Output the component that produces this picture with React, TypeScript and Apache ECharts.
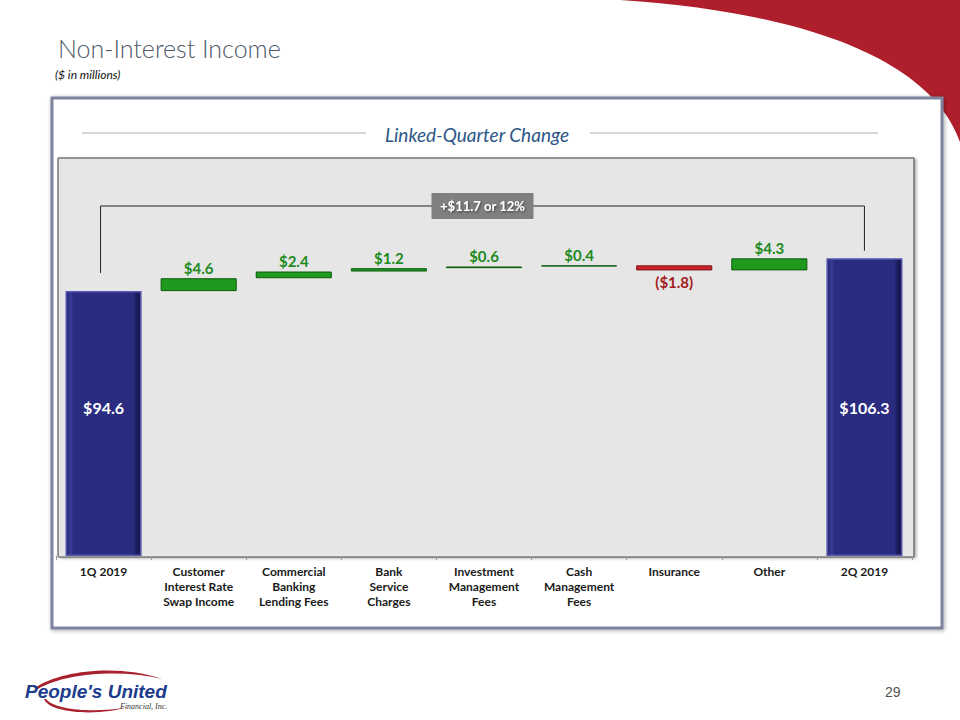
import React, { useEffect, useRef } from 'react';
import * as echarts from 'echarts';

const categories = [
  '1Q 2019',
  'Customer\nInterest Rate\nSwap Income',
  'Commercial\nBanking\nLending Fees',
  'Bank\nService\nCharges',
  'Investment\nManagement\nFees',
  'Cash\nManagement\nFees',
  'Insurance',
  'Other',
  '2Q 2019',
];
const startValue = 94.6;
const changes = [4.6, 2.4, 1.2, 0.6, 0.4, -1.8, 4.3];
const endValue = 106.3;

const r1 = (v: number) => Math.round(v * 10) / 10;
const fmt = (v: number) => (v < 0 ? `($${Math.abs(v).toFixed(1)})` : `$${v.toFixed(1)}`);

let shapesRegistered = false;
function registerShapes() {
  if (shapesRegistered) return;
  shapesRegistered = true;
  echarts.graphic.registerShape(
    'topSwoosh',
    echarts.graphic.extendPath('M620,0 L960,0 L960,142 C935,70 830,14 620,0 Z', {})
  );
  echarts.graphic.registerShape(
    'logoSwoosh',
    echarts.graphic.extendPath(
      'M35,688 C60,670 120,664 162,679 C120,669 65,673 38,689 Z M44,699 C50,714 100,716 128,707 C98,713 56,711 46,699 Z',
      {}
    )
  );
}

export default function App() {
  const ref = useRef<HTMLDivElement>(null);

  useEffect(() => {
    registerShapes();
    const el = ref.current!;
    const chart = echarts.init(el, null, { renderer: 'svg' });

    const base: (number | string)[] = [0];
    const inc: (number | string)[] = ['-'];
    const dec: (number | string)[] = ['-'];
    const total: any[] = [
      {
        value: startValue,
        label: { position: ['50%', '44%'], align: 'center', verticalAlign: 'middle' },
      },
    ];
    let cum = startValue;
    changes.forEach((c) => {
      const next = r1(cum + c);
      if (c >= 0) {
        base.push(cum);
        inc.push(c);
        dec.push('-');
      } else {
        base.push(next);
        inc.push('-');
        dec.push(-c);
      }
      total.push('-');
      cum = next;
    });
    base.push(0);
    inc.push('-');
    dec.push('-');
    total.push({ value: endValue, label: { position: 'inside' } });

    const font = 'Lato, Carlito, "Open Sans", sans-serif';

    chart.setOption({
      animation: false,
      grid: { left: 56, right: 48, top: 164, bottom: 164 },
      xAxis: {
        type: 'category',
        data: categories,
        axisLine: { lineStyle: { color: '#9a9a9a', width: 1 } },
        axisTick: { show: true, length: 4, lineStyle: { color: '#9a9a9a' } },
        axisLabel: {
          interval: 0,
          margin: 8,
          fontFamily: font,
          fontWeight: 'bold',
          fontSize: 12,
          lineHeight: 15,
          color: '#1a1a1a',
        },
      },
      yAxis: { type: 'value', min: 0, max: 140, show: false, splitLine: { show: false } },
      series: [
        {
          name: 'base',
          type: 'bar',
          stack: 'wf',
          data: base,
          itemStyle: { color: 'transparent' },
          barCategoryGap: '20%',
          silent: true,
        },
        {
          name: 'total',
          type: 'bar',
          stack: 'wf',
          data: total,
          barCategoryGap: '20%',
          itemStyle: {
            color: new echarts.graphic.LinearGradient(0, 0, 1, 0, [
              { offset: 0, color: '#23256e' },
              { offset: 0.06, color: '#3a3c98' },
              { offset: 0.1, color: '#2a2c80' },
              { offset: 0.9, color: '#2a2c80' },
              { offset: 0.94, color: '#1c1d5e' },
              { offset: 1, color: '#15164c' },
            ]),
            borderColor: '#5456b0',
            borderWidth: 1.5,
          },
          label: {
            show: true,
            formatter: (p: any) => fmt(p.value),
            color: '#ffffff',
            fontFamily: font,
            fontWeight: 'bold',
            fontSize: 16,
          },
        },
        {
          name: 'increase',
          type: 'bar',
          stack: 'wf',
          data: inc,
          barCategoryGap: '20%',
          itemStyle: { color: '#1f9a1f', borderColor: '#0b5c0b', borderWidth: 1 },
          label: {
            show: true,
            position: 'top',
            distance: 3,
            formatter: (p: any) => fmt(p.value),
            color: '#1e8a1e',
            fontFamily: font,
            fontWeight: 'bold',
            fontSize: 15,
          },
        },
        {
          name: 'decrease',
          type: 'bar',
          stack: 'wf',
          data: dec,
          barCategoryGap: '20%',
          itemStyle: { color: '#cc262c', borderColor: '#7a0f12', borderWidth: 1 },
          label: {
            show: true,
            position: 'bottom',
            distance: 4,
            formatter: (p: any) => fmt(-p.value),
            color: '#a31c20',
            fontFamily: font,
            fontWeight: 'bold',
            fontSize: 15,
          },
        },
      ],
    });

    const toPx = (i: number, v: number) =>
      chart.convertToPixel({ xAxisIndex: 0, yAxisIndex: 0 }, [i, v]) as number[];
    const last = categories.length - 1;
    const pL = toPx(0, startValue + 6.5);
    const pR = toPx(last, endValue + 2.7);
    const yTop = toPx(0, 125)[1];
    const xL = pL[0] - 3;
    const xR = pR[0];
    const midX = (xL + xR) / 2;
    const diff = r1(endValue - startValue);
    const pct = Math.round((diff / startValue) * 100);
    const boxText = `+$${diff.toFixed(1)} or ${pct}%`;

    chart.setOption({
      graphic: [
        { type: 'topSwoosh', z: -20, style: { fill: '#ae1f2b' } },
        {
          type: 'text',
          x: 58,
          y: 48,
          z: 10,
          style: {
            text: 'Non-Interest Income',
            font: `300 25px ${font}`,
            fill: '#4d5a68',
            verticalAlign: 'middle',
          },
        },
        {
          type: 'text',
          x: 55,
          y: 74,
          z: 10,
          style: {
            text: '($ in millions)',
            font: `italic 12px ${font}`,
            fill: '#111111',
            verticalAlign: 'middle',
          },
        },
        {
          type: 'rect',
          z: -20,
          shape: { x: 52, y: 98, width: 890, height: 530 },
          style: {
            fill: '#ffffff',
            stroke: '#7f839e',
            lineWidth: 3,
            shadowBlur: 4,
            shadowColor: 'rgba(0,0,0,0.35)',
            shadowOffsetX: 1,
            shadowOffsetY: 1,
          },
        },
        {
          type: 'line',
          z: -10,
          shape: { x1: 82, y1: 133, x2: 366, y2: 133 },
          style: { stroke: '#c8c8c8', lineWidth: 1.5 },
        },
        {
          type: 'line',
          z: -10,
          shape: { x1: 590, y1: 133, x2: 878, y2: 133 },
          style: { stroke: '#c8c8c8', lineWidth: 1.5 },
        },
        {
          type: 'text',
          x: 477,
          y: 134,
          z: 10,
          style: {
            text: 'Linked-Quarter Change',
            font: `italic 19px ${font}`,
            fill: '#2e5687',
            align: 'center',
            verticalAlign: 'middle',
          },
        },
        {
          type: 'rect',
          z: -10,
          shape: { x: 58, y: 158, width: 856, height: 399 },
          style: {
            fill: '#e6e6e6',
            stroke: '#3c3c3c',
            lineWidth: 1,
            shadowBlur: 3,
            shadowColor: 'rgba(0,0,0,0.3)',
            shadowOffsetX: 2,
            shadowOffsetY: 1,
          },
        },
        {
          type: 'polyline',
          z: 5,
          shape: {
            points: [
              [xL, pL[1]],
              [xL, yTop],
              [xR, yTop],
              [xR, pR[1]],
            ],
          },
          style: { stroke: '#222222', lineWidth: 1, fill: 'none' },
        },
        {
          type: 'rect',
          z: 6,
          shape: { x: midX - 51, y: yTop - 13, width: 102, height: 26 },
          style: { fill: '#808080' },
        },
        {
          type: 'text',
          x: midX,
          y: yTop,
          z: 7,
          style: {
            text: boxText,
            font: `bold 13px ${font}`,
            fill: '#ffffff',
            align: 'center',
            verticalAlign: 'middle',
            textShadowColor: 'rgba(0,0,0,0.5)',
            textShadowBlur: 2,
            textShadowOffsetX: 1,
            textShadowOffsetY: 1,
          },
        },
        { type: 'logoSwoosh', z: 8, style: { fill: '#a8212c' } },
        {
          type: 'text',
          x: 25,
          y: 691,
          z: 9,
          style: {
            text: "People's United",
            font: 'italic bold 19px "Liberation Sans", Arial, sans-serif',
            fill: '#1d3c8c',
            verticalAlign: 'middle',
          },
        },
        {
          type: 'text',
          x: 120,
          y: 706,
          z: 9,
          style: {
            text: 'Financial, Inc.',
            font: 'italic 8px "Liberation Serif", "DejaVu Serif", serif',
            fill: '#333333',
            verticalAlign: 'middle',
          },
        },
        {
          type: 'text',
          x: 885,
          y: 692,
          z: 9,
          style: {
            text: '29',
            font: '14px "Liberation Sans", Arial, sans-serif',
            fill: '#555555',
            verticalAlign: 'middle',
          },
        },
      ],
    });

    return () => chart.dispose();
  }, []);

  return (
    <div
      ref={ref}
      style={{ position: 'fixed', left: 0, top: 0, width: 960, height: 720, background: '#ffffff' }}
    />
  );
}
